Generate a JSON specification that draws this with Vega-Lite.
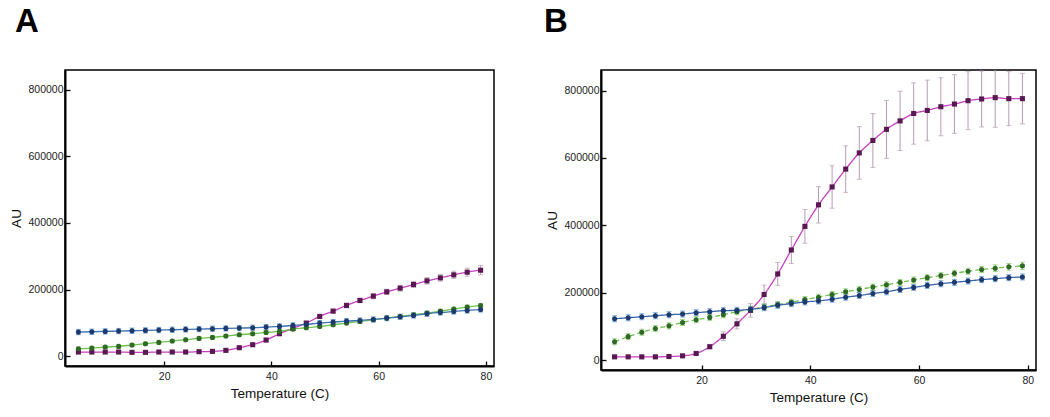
{
  "$schema": "https://vega.github.io/schema/vega-lite/v6.json",
  "padding": {"left": 9, "top": 5, "right": 5, "bottom": 5},
  "spacing": 48,
  "config": {
    "font": "Liberation Sans",
    "view": {"stroke": "#000", "strokeWidth": 1.5},
    "axis": {
      "grid": false,
      "domainColor": "#000",
      "domainWidth": 2,
      "tickColor": "#000",
      "tickWidth": 1.3,
      "labelOverlap": false,
      "labelFont": "Liberation Sans",
      "labelFontSize": 10.5,
      "labelColor": "#222",
      "titleFont": "Liberation Sans",
      "titleFontSize": 13.5,
      "titleFontWeight": "normal",
      "titleColor": "#111"
    }
  },
  "datasets": {
    "A": [
      {"t":4,"s":"S1","v":12000,"e":3000},{"t":6.5,"s":"S1","v":12000,"e":3000},{"t":9,"s":"S1","v":12000,"e":3000},{"t":11.5,"s":"S1","v":12000,"e":3000},{"t":14,"s":"S1","v":11000,"e":3000},{"t":16.5,"s":"S1","v":11000,"e":3000},{"t":19,"s":"S1","v":12000,"e":3000},{"t":21.5,"s":"S1","v":12000,"e":3000},{"t":24,"s":"S1","v":12000,"e":3000},{"t":26.5,"s":"S1","v":13000,"e":3000},{"t":29,"s":"S1","v":14000,"e":3000},{"t":31.5,"s":"S1","v":17000,"e":4000},{"t":34,"s":"S1","v":25000,"e":4000},{"t":36.5,"s":"S1","v":34000,"e":5000},{"t":39,"s":"S1","v":48000,"e":5000},{"t":41.5,"s":"S1","v":67000,"e":5000},{"t":44,"s":"S1","v":83000,"e":5000},{"t":46.5,"s":"S1","v":99000,"e":6000},{"t":49,"s":"S1","v":119000,"e":6000},{"t":51.5,"s":"S1","v":135000,"e":6000},{"t":54,"s":"S1","v":152000,"e":7000},{"t":56.5,"s":"S1","v":167000,"e":7000},{"t":59,"s":"S1","v":180000,"e":8000},{"t":61.5,"s":"S1","v":193000,"e":8000},{"t":64,"s":"S1","v":204000,"e":9000},{"t":66.5,"s":"S1","v":215000,"e":9000},{"t":69,"s":"S1","v":226000,"e":10000},{"t":71.5,"s":"S1","v":235000,"e":10000},{"t":74,"s":"S1","v":244000,"e":11000},{"t":76.5,"s":"S1","v":252000,"e":12000},{"t":79,"s":"S1","v":258000,"e":14000},
      {"t":4,"s":"S2","v":22000,"e":5000},{"t":6.5,"s":"S2","v":24000,"e":5000},{"t":9,"s":"S2","v":27000,"e":5000},{"t":11.5,"s":"S2","v":29000,"e":5000},{"t":14,"s":"S2","v":33000,"e":5000},{"t":16.5,"s":"S2","v":37000,"e":5000},{"t":19,"s":"S2","v":41000,"e":5000},{"t":21.5,"s":"S2","v":45000,"e":5000},{"t":24,"s":"S2","v":49000,"e":5000},{"t":26.5,"s":"S2","v":53000,"e":5000},{"t":29,"s":"S2","v":56000,"e":5000},{"t":31.5,"s":"S2","v":60000,"e":5000},{"t":34,"s":"S2","v":64000,"e":5000},{"t":36.5,"s":"S2","v":67000,"e":5000},{"t":39,"s":"S2","v":71000,"e":5000},{"t":41.5,"s":"S2","v":74000,"e":5000},{"t":44,"s":"S2","v":81000,"e":5000},{"t":46.5,"s":"S2","v":85000,"e":5000},{"t":49,"s":"S2","v":89000,"e":5000},{"t":51.5,"s":"S2","v":94000,"e":5000},{"t":54,"s":"S2","v":99000,"e":5000},{"t":56.5,"s":"S2","v":104000,"e":5000},{"t":59,"s":"S2","v":109000,"e":5000},{"t":61.5,"s":"S2","v":114000,"e":5000},{"t":64,"s":"S2","v":119000,"e":5000},{"t":66.5,"s":"S2","v":124000,"e":5000},{"t":69,"s":"S2","v":129000,"e":5000},{"t":71.5,"s":"S2","v":135000,"e":5000},{"t":74,"s":"S2","v":141000,"e":6000},{"t":76.5,"s":"S2","v":147000,"e":6000},{"t":79,"s":"S2","v":152000,"e":6000},
      {"t":4,"s":"S3","v":72000,"e":8000},{"t":6.5,"s":"S3","v":73000,"e":8000},{"t":9,"s":"S3","v":74000,"e":8000},{"t":11.5,"s":"S3","v":75000,"e":8000},{"t":14,"s":"S3","v":76000,"e":8000},{"t":16.5,"s":"S3","v":77000,"e":8000},{"t":19,"s":"S3","v":78000,"e":8000},{"t":21.5,"s":"S3","v":79000,"e":8000},{"t":24,"s":"S3","v":80000,"e":8000},{"t":26.5,"s":"S3","v":81000,"e":8000},{"t":29,"s":"S3","v":82000,"e":8000},{"t":31.5,"s":"S3","v":83000,"e":8000},{"t":34,"s":"S3","v":84000,"e":8000},{"t":36.5,"s":"S3","v":85000,"e":8000},{"t":39,"s":"S3","v":87000,"e":8000},{"t":41.5,"s":"S3","v":89000,"e":8000},{"t":44,"s":"S3","v":92000,"e":8000},{"t":46.5,"s":"S3","v":95000,"e":8000},{"t":49,"s":"S3","v":99000,"e":8000},{"t":51.5,"s":"S3","v":102000,"e":8000},{"t":54,"s":"S3","v":105000,"e":8000},{"t":56.5,"s":"S3","v":107000,"e":8000},{"t":59,"s":"S3","v":110000,"e":8000},{"t":61.5,"s":"S3","v":114000,"e":8000},{"t":64,"s":"S3","v":118000,"e":8000},{"t":66.5,"s":"S3","v":122000,"e":8000},{"t":69,"s":"S3","v":127000,"e":8000},{"t":71.5,"s":"S3","v":131000,"e":8000},{"t":74,"s":"S3","v":134000,"e":8000},{"t":76.5,"s":"S3","v":137000,"e":8000},{"t":79,"s":"S3","v":140000,"e":8000}
    ],
    "B": [
      {"t":4,"s":"S1","v":10000,"e":3000},{"t":6.5,"s":"S1","v":10000,"e":3000},{"t":9,"s":"S1","v":10000,"e":3000},{"t":11.5,"s":"S1","v":10000,"e":3000},{"t":14,"s":"S1","v":11000,"e":3000},{"t":16.5,"s":"S1","v":13000,"e":3000},{"t":19,"s":"S1","v":20000,"e":4000},{"t":21.5,"s":"S1","v":40000,"e":6000},{"t":24,"s":"S1","v":71000,"e":13000},{"t":26.5,"s":"S1","v":108000,"e":15000},{"t":29,"s":"S1","v":148000,"e":20000},{"t":31.5,"s":"S1","v":195000,"e":28000},{"t":34,"s":"S1","v":256000,"e":34000},{"t":36.5,"s":"S1","v":327000,"e":40000},{"t":39,"s":"S1","v":397000,"e":50000},{"t":41.5,"s":"S1","v":461000,"e":54000},{"t":44,"s":"S1","v":514000,"e":63000},{"t":46.5,"s":"S1","v":567000,"e":69000},{"t":49,"s":"S1","v":615000,"e":78000},{"t":51.5,"s":"S1","v":652000,"e":80000},{"t":54,"s":"S1","v":685000,"e":86000},{"t":56.5,"s":"S1","v":710000,"e":88000},{"t":59,"s":"S1","v":732000,"e":91000},{"t":61.5,"s":"S1","v":741000,"e":90000},{"t":64,"s":"S1","v":752000,"e":86000},{"t":66.5,"s":"S1","v":760000,"e":87000},{"t":69,"s":"S1","v":770000,"e":86000},{"t":71.5,"s":"S1","v":775000,"e":83000},{"t":74,"s":"S1","v":779000,"e":88000},{"t":76.5,"s":"S1","v":776000,"e":80000},{"t":79,"s":"S1","v":776000,"e":75000},
      {"t":4,"s":"S2","v":55000,"e":9000},{"t":6.5,"s":"S2","v":70000,"e":9000},{"t":9,"s":"S2","v":83000,"e":9000},{"t":11.5,"s":"S2","v":94000,"e":9000},{"t":14,"s":"S2","v":102000,"e":9000},{"t":16.5,"s":"S2","v":112000,"e":9000},{"t":19,"s":"S2","v":120000,"e":9000},{"t":21.5,"s":"S2","v":127000,"e":9000},{"t":24,"s":"S2","v":135000,"e":9000},{"t":26.5,"s":"S2","v":144000,"e":9000},{"t":29,"s":"S2","v":151000,"e":9000},{"t":31.5,"s":"S2","v":158000,"e":9000},{"t":34,"s":"S2","v":165000,"e":9000},{"t":36.5,"s":"S2","v":172000,"e":9000},{"t":39,"s":"S2","v":180000,"e":9000},{"t":41.5,"s":"S2","v":187000,"e":9000},{"t":44,"s":"S2","v":195000,"e":9000},{"t":46.5,"s":"S2","v":203000,"e":9000},{"t":49,"s":"S2","v":210000,"e":9000},{"t":51.5,"s":"S2","v":217000,"e":9000},{"t":54,"s":"S2","v":224000,"e":9000},{"t":56.5,"s":"S2","v":231000,"e":9000},{"t":59,"s":"S2","v":238000,"e":9000},{"t":61.5,"s":"S2","v":245000,"e":9000},{"t":64,"s":"S2","v":251000,"e":9000},{"t":66.5,"s":"S2","v":258000,"e":9000},{"t":69,"s":"S2","v":264000,"e":9000},{"t":71.5,"s":"S2","v":269000,"e":9000},{"t":74,"s":"S2","v":273000,"e":10000},{"t":76.5,"s":"S2","v":277000,"e":10000},{"t":79,"s":"S2","v":280000,"e":11000},
      {"t":4,"s":"S3","v":123000,"e":9000},{"t":6.5,"s":"S3","v":126000,"e":9000},{"t":9,"s":"S3","v":129000,"e":9000},{"t":11.5,"s":"S3","v":132000,"e":9000},{"t":14,"s":"S3","v":135000,"e":9000},{"t":16.5,"s":"S3","v":137000,"e":9000},{"t":19,"s":"S3","v":141000,"e":9000},{"t":21.5,"s":"S3","v":144000,"e":9000},{"t":24,"s":"S3","v":147000,"e":9000},{"t":26.5,"s":"S3","v":148000,"e":9000},{"t":29,"s":"S3","v":151000,"e":9000},{"t":31.5,"s":"S3","v":156000,"e":9000},{"t":34,"s":"S3","v":163000,"e":9000},{"t":36.5,"s":"S3","v":168000,"e":9000},{"t":39,"s":"S3","v":173000,"e":9000},{"t":41.5,"s":"S3","v":176000,"e":9000},{"t":44,"s":"S3","v":181000,"e":9000},{"t":46.5,"s":"S3","v":187000,"e":9000},{"t":49,"s":"S3","v":192000,"e":9000},{"t":51.5,"s":"S3","v":198000,"e":9000},{"t":54,"s":"S3","v":203000,"e":9000},{"t":56.5,"s":"S3","v":210000,"e":9000},{"t":59,"s":"S3","v":216000,"e":9000},{"t":61.5,"s":"S3","v":222000,"e":9000},{"t":64,"s":"S3","v":227000,"e":9000},{"t":66.5,"s":"S3","v":231000,"e":9000},{"t":69,"s":"S3","v":235000,"e":9000},{"t":71.5,"s":"S3","v":239000,"e":9000},{"t":74,"s":"S3","v":242000,"e":9000},{"t":76.5,"s":"S3","v":245000,"e":9000},{"t":79,"s":"S3","v":247000,"e":9000}
    ]
  },
  "hconcat": [
    {
      "width": 429,
      "height": 296,
      "title": {"text": "A", "anchor": "start", "frame": "group", "fontSize": 33, "fontWeight": "bold", "font": "Liberation Sans", "color": "#000", "offset": 31, "dx": -50},
      "data": {"name": "A"},
      "layer": [
        {
          "mark": {"type": "line", "strokeWidth": 1.3, "interpolate": "monotone"},
          "encoding": {
            "x": {"field": "t", "type": "quantitative", "title": "Temperature (C)", "scale": {"domain": [1.5, 81.5], "nice": false, "zero": false},
              "axis": {"format": "d", "values": [20,40,60,80], "tickSize": -5, "labelPadding": 10, "titlePadding": 5}},
            "y": {"field": "v", "type": "quantitative", "title": "AU", "scale": {"domain": [-30000, 860000], "nice": false, "zero": false},
              "axis": {"format": "d", "labelOverlap": false, "values": [0,50000,100000,150000,200000,250000,300000,350000,400000,450000,500000,550000,600000,650000,700000,750000,800000,850000], "labelExpr": "datum.value % 200000 === 0 ? datum.label : ''", "tickSize": {"condition": {"test": "datum.value % 200000 === 0", "value": -5}, "value": -3}, "labelPadding": 7, "titlePadding": 4}},
            "color": {"field": "s", "type": "nominal", "scale": {"domain": ["S1","S2","S3"], "range": ["#c53fc0", "#6cc24a", "#3b72b5"]}, "legend": null}
          }
        },
        {
          "mark": {"type": "errorbar", "ticks": {"size": 5}, "thickness": 1, "clip": true},
          "encoding": {
            "x": {"field": "t", "type": "quantitative", "title": "Temperature (C)"},
            "y": {"field": "v", "type": "quantitative", "title": "AU"},
            "yError": {"field": "e"},
            "color": {"field": "s", "type": "nominal", "scale": {"domain": ["S1","S2","S3"], "range": ["#b69ab4", "#7fc860", "#4f8fd0"]}, "legend": null}
          }
        },
        {
          "mark": {"type": "point", "filled": true, "size": 26, "opacity": 1},
          "encoding": {
            "x": {"field": "t", "type": "quantitative", "title": "Temperature (C)"},
            "y": {"field": "v", "type": "quantitative", "title": "AU"},
            "color": {"field": "s", "type": "nominal", "scale": {"domain": ["S1","S2","S3"], "range": ["#5a1852", "#2f6a24", "#1d3a6e"]}, "legend": null},
            "shape": {"field": "s", "type": "nominal", "scale": {"domain": ["S1","S2","S3"], "range": ["square", "circle", "circle"]}, "legend": null}
          }
        }
      ],
      "resolve": {"scale": {"color": "independent"}}
    },
    {
      "width": 435,
      "height": 300,
      "title": {"text": "B", "anchor": "start", "frame": "group", "fontSize": 33, "fontWeight": "bold", "font": "Liberation Sans", "color": "#000", "offset": 31, "dx": -57},
      "data": {"name": "B"},
      "layer": [
        {
          "mark": {"type": "line", "strokeWidth": 1.3, "interpolate": "monotone"},
          "encoding": {
            "x": {"field": "t", "type": "quantitative", "title": "Temperature (C)", "scale": {"domain": [1.5, 81.5], "nice": false, "zero": false},
              "axis": {"format": "d", "values": [20,40,60,80], "tickSize": -5, "labelPadding": 10, "titlePadding": 5}},
            "y": {"field": "v", "type": "quantitative", "title": "AU", "scale": {"domain": [-29000, 861000], "nice": false, "zero": false},
              "axis": {"format": "d", "labelOverlap": false, "values": [0,50000,100000,150000,200000,250000,300000,350000,400000,450000,500000,550000,600000,650000,700000,750000,800000,850000], "labelExpr": "datum.value % 200000 === 0 ? datum.label : ''", "tickSize": {"condition": {"test": "datum.value % 200000 === 0", "value": -5}, "value": -3}, "labelPadding": 7, "titlePadding": 4}},
            "color": {"field": "s", "type": "nominal", "scale": {"domain": ["S1","S2","S3"], "range": ["#c53fc0", "#6cc24a", "#3565ad"]}, "legend": null},
            "strokeDash": {"field": "s", "type": "nominal", "scale": {"domain": ["S1","S2","S3"], "range": [[1,0],[5,3],[1,0]]}, "legend": null}
          }
        },
        {
          "mark": {"type": "errorbar", "ticks": {"size": 5}, "thickness": 1, "clip": true},
          "encoding": {
            "x": {"field": "t", "type": "quantitative", "title": "Temperature (C)"},
            "y": {"field": "v", "type": "quantitative", "title": "AU"},
            "yError": {"field": "e"},
            "color": {"field": "s", "type": "nominal", "scale": {"domain": ["S1","S2","S3"], "range": ["#b69ab4", "#7fc860", "#4f8fd0"]}, "legend": null}
          }
        },
        {
          "mark": {"type": "point", "filled": true, "size": 26, "opacity": 1},
          "encoding": {
            "x": {"field": "t", "type": "quantitative", "title": "Temperature (C)"},
            "y": {"field": "v", "type": "quantitative", "title": "AU"},
            "color": {"field": "s", "type": "nominal", "scale": {"domain": ["S1","S2","S3"], "range": ["#5a1852", "#2f6a24", "#1d3a6e"]}, "legend": null},
            "shape": {"field": "s", "type": "nominal", "scale": {"domain": ["S1","S2","S3"], "range": ["square", "circle", "circle"]}, "legend": null}
          }
        }
      ],
      "resolve": {"scale": {"color": "independent"}}
    }
  ]
}
